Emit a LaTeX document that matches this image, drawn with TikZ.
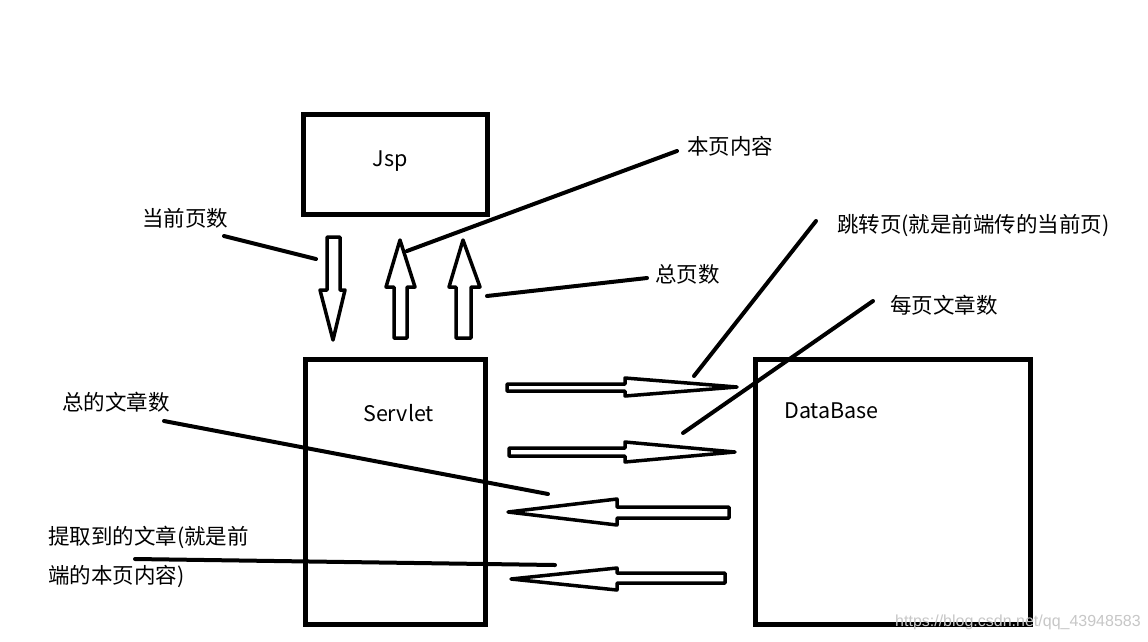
\documentclass[tikz,border=0pt]{standalone}
\usepackage{fontspec}
\setmainfont{Noto Sans CJK SC}
\newfontfamily\wmfont{Liberation Sans}
\begin{document}
\begin{tikzpicture}[x=1pt,y=-1pt,
  box/.style={draw=black,line width=5pt,fill=none},
  blockarrow/.style={draw=black,line width=3.5pt,line join=round,fill=white},
  leader/.style={draw=black,line width=4pt,line cap=round},
  lbl/.style={inner sep=0pt,anchor=west,font=\fontsize{21.5}{26}\selectfont},
  boxlbl/.style={inner sep=0pt,font=\fontsize{21.5}{26}\selectfont}]
\useasboundingbox[fill=white] (0,0) rectangle (1148,641);

% boxes
\draw[box] (303,114) rectangle (487,214);
\draw[box] (305.5,359.5) rectangle (485.5,624.5);
\draw[box] (755,359) rectangle (1030,624);
\node[boxlbl] (jsp) at (390,161) {Jsp};
\node[boxlbl,anchor=west] (servlet) at (363,413) {Servlet};
\node[boxlbl,anchor=west] (db) at (784,411) {DataBase};

% vertical block arrows
\draw[blockarrow] (327,237) -- (340,237) -- (340,290) -- (345,290) -- (333,340) -- (320,290) -- (327,290) -- cycle;
\draw[blockarrow] (400,240) -- (415,287) -- (407,287) -- (407,338) -- (394,338) -- (394,287) -- (386,287) -- cycle;
\draw[blockarrow] (463,240) -- (480,287) -- (471,287) -- (471,338) -- (456,338) -- (456,287) -- (449,287) -- cycle;

% horizontal block arrows
\draw[blockarrow] (507,384) -- (625,384) -- (625,378) -- (737,387) -- (625,396) -- (625,391) -- (507,391) -- cycle;
\draw[blockarrow] (509,448) -- (625,448) -- (625,442) -- (735,452) -- (625,462) -- (625,456) -- (509,456) -- cycle;
\draw[blockarrow] (508,512) -- (617,499) -- (617,507) -- (729,507) -- (729,518) -- (617,518) -- (617,525) -- cycle;
\draw[blockarrow] (511,579) -- (617,568) -- (617,573) -- (725,573) -- (725,583) -- (617,583) -- (617,590) -- cycle;

% labels
\node[lbl] (curpage) at (142,218) {当前页数};
\node[lbl] (pagecontent) at (687,146) {本页内容};
\node[lbl] (totalpages) at (655,274) {总页数};
\node[lbl] (jump) at (837,226) {跳转页(就是前端传的当前页)};
\node[lbl] (perpage) at (890,305) {每页文章数};
\node[lbl] (totalart) at (62,402) {总的文章数};
\node[inner sep=0pt,anchor=north west,align=left,font=\fontsize{21.5}{39}\selectfont] (fetched) at (48,526) {提取到的文章(就是前\\端的本页内容)};

% leader line ends
\coordinate (c1a) at (224,236); \coordinate (c1b) at (316,259);
\coordinate (c2a) at (677,151); \coordinate (c2b) at (407,251);
\coordinate (c3a) at (647,278); \coordinate (c3b) at (487,296);
\coordinate (c4a) at (816,221); \coordinate (c4b) at (694,376);
\coordinate (c5a) at (873,301); \coordinate (c5b) at (683,433);
\coordinate (c6a) at (164,421); \coordinate (c6b) at (548,494);
\coordinate (c7a) at (135,559); \coordinate (c7b) at (555,565);

\draw[leader] (c1a) -- (c1b);
\draw[leader] (c2a) -- (c2b);
\draw[leader] (c3a) -- (c3b);
\draw[leader] (c4a) -- (c4b);
\draw[leader] (c5a) -- (c5b);
\draw[leader] (c6a) -- (c6b);
\draw[leader] (c7a) -- (c7b);

% watermark
\node[inner sep=0pt,anchor=west,text=black!22,font=\wmfont\fontsize{16}{19}\selectfont] (wm) at (895,622) {https://blog.csdn.net/qq\_43948583};
\end{tikzpicture}
\end{document}
